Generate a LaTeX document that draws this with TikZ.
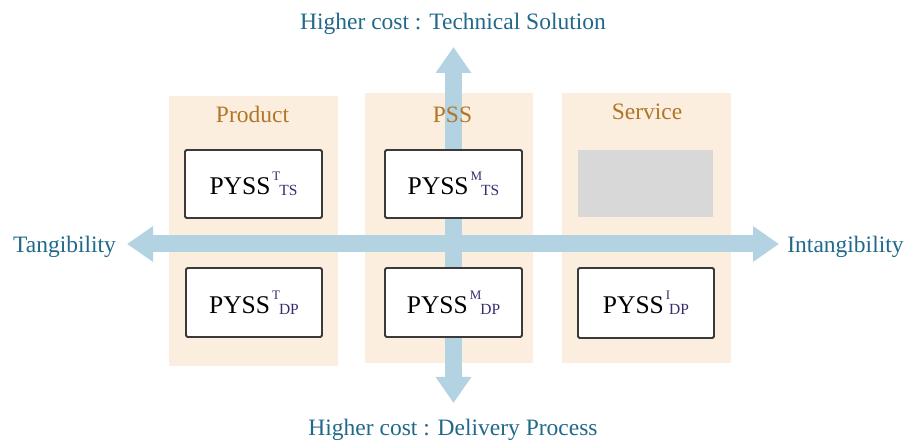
\documentclass[tikz,border=0pt]{standalone}
\usepackage{fontspec}
\setmainfont{Liberation Serif}
\usetikzlibrary{arrows.meta}
\definecolor{colbg}{HTML}{FBEEDE}
\definecolor{arrowblue}{HTML}{B3D3E3}
\definecolor{titlecol}{HTML}{B07628}
\definecolor{axiscol}{HTML}{20698A}
\definecolor{scriptcol}{HTML}{3A2A70}
\definecolor{greyfill}{HTML}{D8D8D8}
\definecolor{boxline}{HTML}{3A3A3A}
\newcommand{\pyssText}[2]{\fontsize{25.5}{30}\selectfont P\symbol{"03A5}SS\hspace{2pt}{\color{scriptcol}\raisebox{14pt}{\fontsize{13}{15}\selectfont #1}\hspace{-1pt}\raisebox{-1pt}{\fontsize{15.5}{18}\selectfont #2}}}
\tikzset{
  colbox/.style={fill=colbg, draw=none, inner sep=0pt, outer sep=0pt},
  pbox/.style={draw=boxline, line width=1.8pt, fill=white, rounded corners=1.5pt, inner sep=0pt, outer sep=0pt},
  gbox/.style={fill=greyfill, draw=none, inner sep=0pt},
  coltitle/.style={text=titlecol, font=\fontsize{23.5}{28}\selectfont, inner sep=0pt, anchor=base},
  axislabel/.style={text=axiscol, font=\fontsize{23.5}{28}\selectfont, inner sep=0pt, anchor=base},
  axisarrow/.style={draw=arrowblue, line width=17pt,
    {Triangle[width=34pt,length=26pt]}-{Triangle[width=34pt,length=26pt]}}
}
\begin{document}
\begin{tikzpicture}[x=1pt,y=-1pt]
\useasboundingbox (0,0) rectangle (910,443);
% columns
\node[colbox, minimum width=169pt, minimum height=270pt] (colP) at (253.5,231) {};
\node[colbox, minimum width=168pt, minimum height=270pt] (colM) at (449,228) {};
\node[colbox, minimum width=169pt, minimum height=270pt] (colS) at (646.5,228) {};
% axes
\coordinate (lt) at (127,244);
\coordinate (rt) at (779,244);
\coordinate (tt) at (453.5,47);
\coordinate (bt) at (453.5,403);
\draw[axisarrow] (lt) -- (rt);
\draw[axisarrow] (bt) -- (tt);
% column titles
\node[coltitle] (tP) at (252.5,123) {Product};
\node[coltitle] (tM) at (452.5,123) {PSS};
\node[coltitle] (tS) at (647,120) {Service};
% axis labels
\node[axislabel] (lTop) at (453,30) {Higher cost : Technical Solution};
\node[axislabel] (lBot) at (453,435) {Higher cost : Delivery Process};
\node[axislabel] (lLeft) at (64.5,253) {Tangibility};
\node[axislabel] (lRight) at (845.5,253) {Intangibility};
% boxes
\node[pbox, minimum width=137pt, minimum height=68pt] (pTS) at (253.5,184) {\pyssText{T}{TS}};
\node[pbox, minimum width=137pt, minimum height=68pt] (mTS) at (453.5,184) {\pyssText{M}{TS}};
\node[gbox, minimum width=135pt, minimum height=67pt] (gS) at (645.5,183.5) {};
\node[pbox, minimum width=136pt, minimum height=69pt] (pDP) at (254,302.5) {\pyssText{T}{DP}};
\node[pbox, minimum width=137pt, minimum height=69pt] (mDP) at (453.5,302.5) {\pyssText{M}{DP}};
\node[pbox, minimum width=136pt, minimum height=70pt] (iDP) at (646,303) {\pyssText{I}{DP}};
\end{tikzpicture}
\end{document}
